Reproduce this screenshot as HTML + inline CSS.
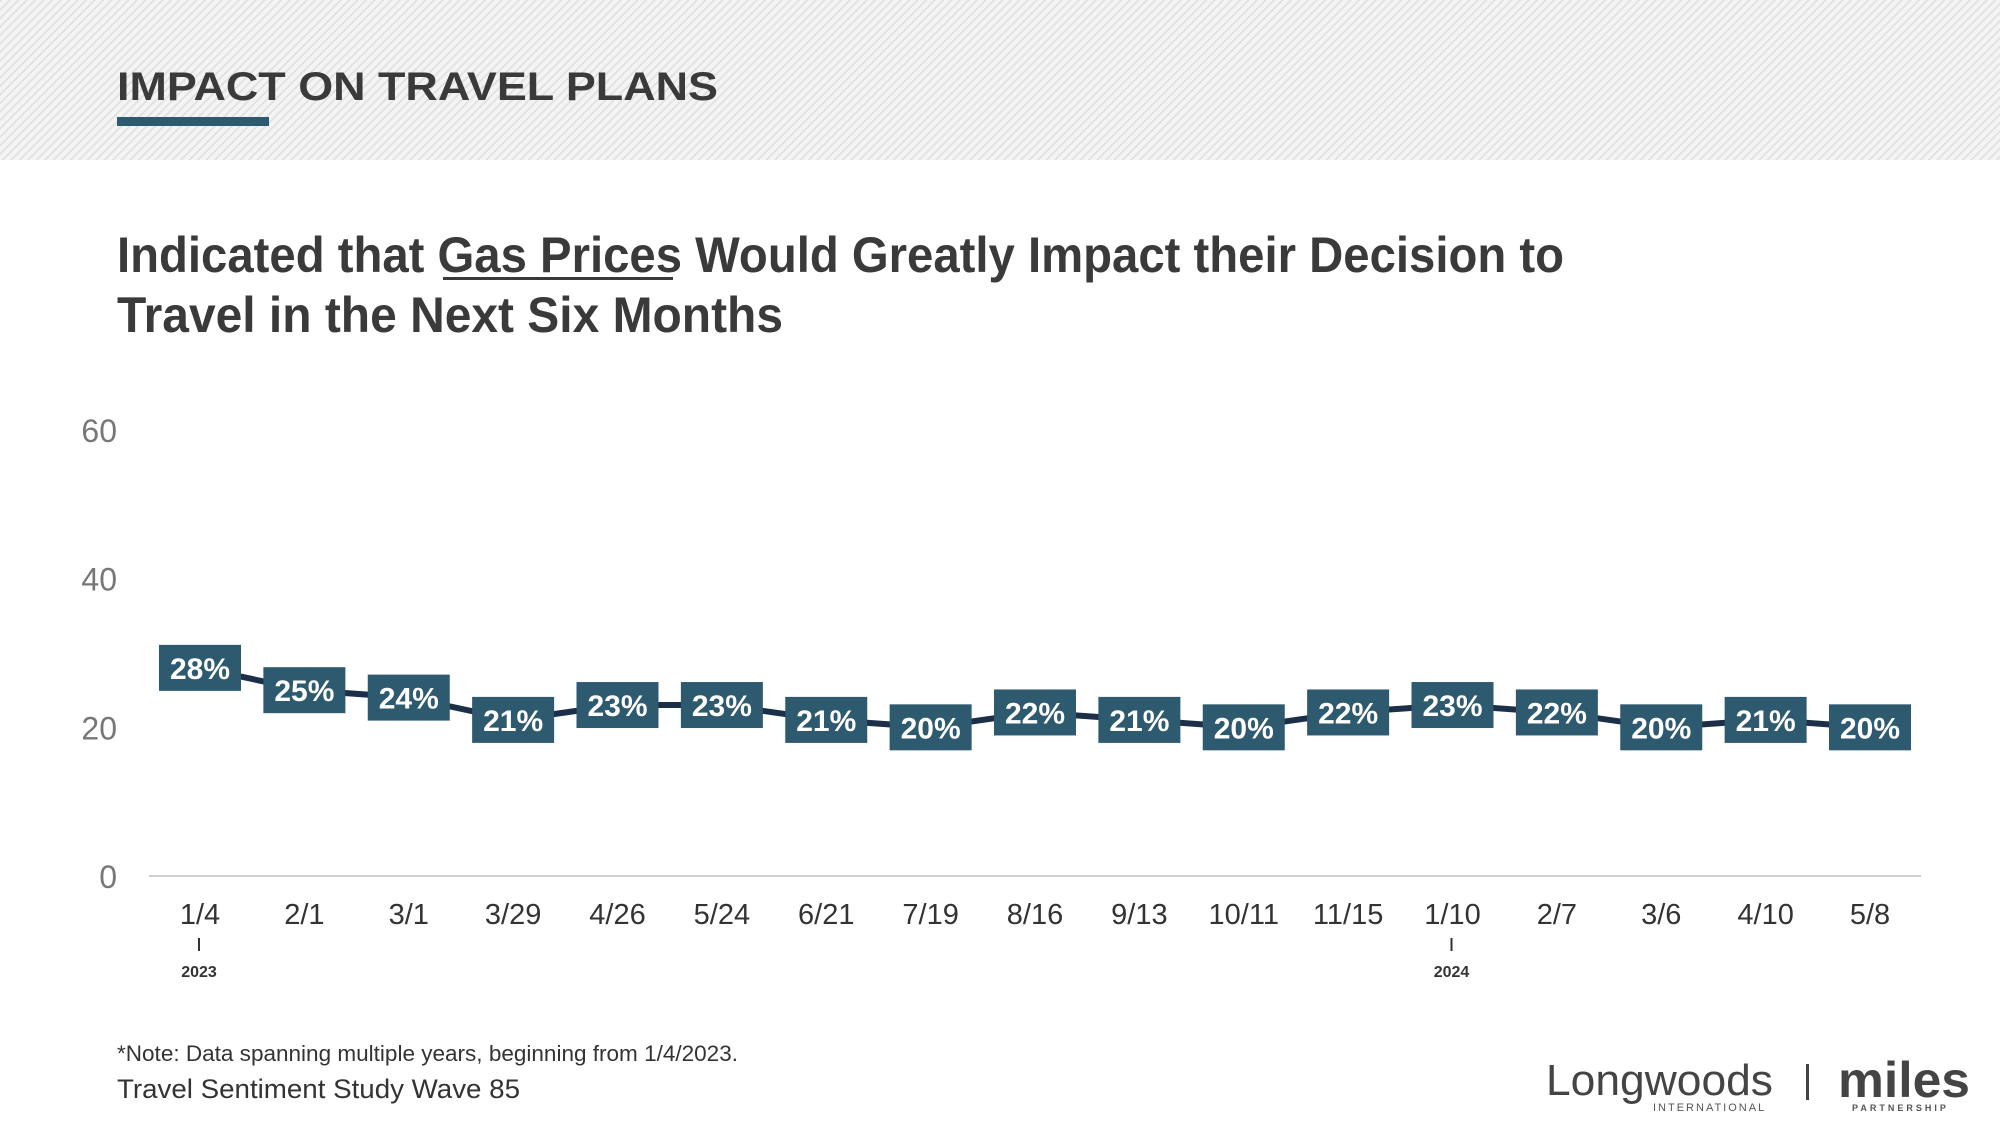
<!DOCTYPE html>
<html><head><meta charset="utf-8"><style>
html,body{margin:0;padding:0;background:#fff;}
svg{display:block;font-family:"Liberation Sans",sans-serif;}
</style></head><body>
<svg id="chart" width="2000" height="1123" viewBox="0 0 2000 1123">
<defs>
<pattern id="hatch" width="6" height="6" patternUnits="userSpaceOnUse" patternTransform="rotate(45)">
<rect width="6" height="6" fill="#f4f4f4"/><rect width="2" height="6" fill="#e2e2e2"/>
</pattern>
</defs>
<rect x="0" y="0" width="2000" height="160" fill="url(#hatch)"/>
<text x="117" y="100" font-size="40" font-weight="600" fill="#3a3a3a" textLength="601" lengthAdjust="spacingAndGlyphs">IMPACT ON TRAVEL PLANS</text>
<rect x="117" y="117" width="152" height="9" fill="#2e5a70"/>
<text x="117" y="272" font-size="50" font-weight="bold" fill="#3a3a3a" textLength="1447" lengthAdjust="spacingAndGlyphs">Indicated that Gas Prices Would Greatly Impact their Decision to</text>
<rect x="443" y="277" width="230" height="3" fill="#3a3a3a"/>
<text x="117" y="332" font-size="50" font-weight="bold" fill="#3a3a3a" textLength="666" lengthAdjust="spacingAndGlyphs">Travel in the Next Six Months</text>
<g id="yaxis"></g>
<line x1="149" y1="876" x2="1921" y2="876" stroke="#cfcfcf" stroke-width="2"/>
<g id="xaxis"></g>
<path id="series-line" fill="none" stroke="#1b2f48" stroke-width="6"/>
<g id="marks"></g>
<text x="117" y="1061" font-size="22" fill="#333" textLength="621" lengthAdjust="spacingAndGlyphs">*Note: Data spanning multiple years, beginning from 1/4/2023.</text>
<text x="117" y="1098" font-size="27" fill="#333" textLength="403" lengthAdjust="spacingAndGlyphs">Travel Sentiment Study Wave 85</text>
<g>
<text x="1546" y="1095" font-size="44" fill="#444" textLength="227" lengthAdjust="spacingAndGlyphs">Longwoods</text>
<text x="1653" y="1111" font-size="11" fill="#555" letter-spacing="2">INTERNATIONAL</text>
</g>
<rect x="1806" y="1064" width="3" height="36" fill="#444"/>
<g>
<text x="1838" y="1097" font-size="50" font-weight="bold" fill="#444" textLength="132" lengthAdjust="spacingAndGlyphs">miles</text>
<text x="1852" y="1111" font-size="9" font-weight="bold" fill="#555" letter-spacing="3">PARTNERSHIP</text>
</g>
</svg>
<script>
const categories = ["1/4","2/1","3/1","3/29","4/26","5/24","6/21","7/19","8/16","9/13","10/11","11/15","1/10","2/7","3/6","4/10","5/8"];
const values = [28,25,24,21,23,23,21,20,22,21,20,22,23,22,20,21,20];
const yTicks = [0,20,40,60];
const yearMarks = [{index:0,label:"2023"},{index:12,label:"2024"}];
const NS = "http://www.w3.org/2000/svg";
function xPos(i){ return 200 + i * (1870 - 200) / (categories.length - 1); }
function yPos(v){ return 876 - v * (876 - 430) / 60; }
function mk(tag, attrs, parent, txt){
  const e = document.createElementNS(NS, tag);
  for (const k in attrs) e.setAttribute(k, attrs[k]);
  if (txt !== undefined) e.textContent = txt;
  parent.appendChild(e); return e;
}
const yg = document.getElementById('yaxis');
yTicks.forEach(t => {
  const e = mk('text', {x:117, y:yPos(t)+12, 'font-size':32, fill:'#777', 'text-anchor':'end'}, yg, String(t));
  
  
});
const xg = document.getElementById('xaxis');
categories.forEach((c, i) => {
  const e = mk('text', {x:xPos(i), y:924, 'font-size':29, fill:'#333', 'text-anchor':'middle'}, xg, c);
  
  
});
yearMarks.forEach(m => {
  const x = xPos(m.index) - 1;
  const l = mk('line', {x1:x, y1:938, x2:x, y2:951, stroke:'#333', 'stroke-width':2}, xg);
  
  
  const t = mk('text', {x:x, y:977, 'font-size':16, 'font-weight':'bold', fill:'#333', 'text-anchor':'middle'}, xg, m.label);
  
  
});
document.getElementById('series-line').setAttribute('d', values.map((v,i)=>(i?'L':'M')+xPos(i)+' '+yPos(v)).join(' '));
const mg = document.getElementById('marks');
values.forEach((v, i) => {
  const cx = xPos(i), cy = yPos(v);
  const r = mk('rect', {x:cx-41, y:cy-23, width:82, height:46, fill:'#2e5a70'}, mg);
  
  
  const t = mk('text', {x:cx, y:cy+11, 'font-size':30, 'font-weight':'bold', fill:'#fff', 'text-anchor':'middle'}, mg, v + '%');
  
  
});
</script>
</body></html>
